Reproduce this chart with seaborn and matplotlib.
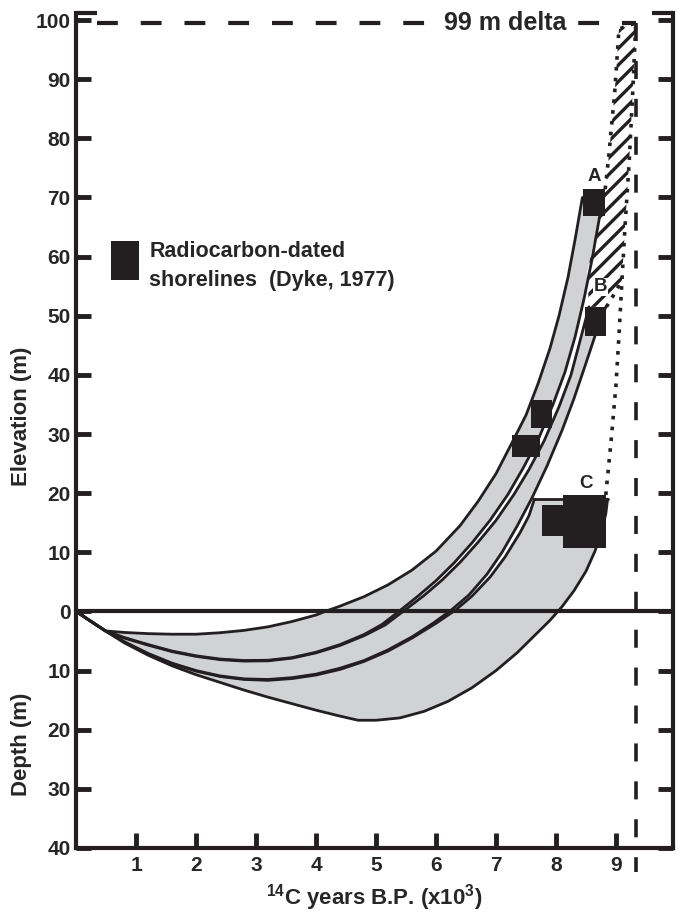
import numpy as np
import pandas as pd
import matplotlib
matplotlib.use("Agg")
import matplotlib.pyplot as plt
import seaborn as sns

# emergence bands: x = 14C ka BP, y = elevation in m (negative = depth)
a_upper_x = [0, 0.25, 0.49, 0.8, 1.2, 1.6, 2.0, 2.4, 2.8, 3.2, 3.6, 4.0, 4.15, 4.4, 4.8, 5.2, 5.6,
             6.0, 6.4, 6.7, 7.0, 7.25, 7.5, 7.7, 7.9, 8.05, 8.2, 8.32, 8.44]
a_upper_y = [0, -1.7, -3.3, -3.55, -3.75, -3.85, -3.85, -3.6, -3.2, -2.6, -1.7, -0.6, 0, 0.9, 2.5, 4.5, 7.0,
             10.2, 14.5, 18.6, 23.3, 28.2, 33.2, 38.5, 44.5, 50.0, 56.5, 63.0, 70.0]
a_lower_x = [0, 0.25, 0.49, 0.8, 1.2, 1.6, 2.0, 2.4, 2.8, 3.2, 3.6, 4.0, 4.4, 4.8, 5.1, 5.38, 5.7,
             6.0, 6.3, 6.6, 6.9, 7.2, 7.45, 7.7, 7.95, 8.15, 8.32, 8.47, 8.6, 8.74]
a_lower_y = [0, -1.7, -3.3, -4.4, -5.6, -6.7, -7.5, -8.05, -8.3, -8.25, -7.8, -6.9, -5.6, -3.9, -2.2, 0, 2.6,
             5.2, 8.2, 11.6, 15.4, 19.8, 24.2, 29.0, 35.0, 40.5, 46.5, 53.0, 59.5, 67.5]

b_upper_x = [0, 0.25, 0.49, 0.8, 1.2, 1.6, 2.0, 2.4, 2.8, 3.2, 3.6, 4.0, 4.4, 4.8, 5.15, 5.45, 5.8,
             6.1, 6.4, 6.7, 7.0, 7.3, 7.55, 7.8, 8.05, 8.25, 8.42, 8.55]
b_upper_y = [0, -1.7, -3.3, -4.5, -5.7, -6.8, -7.6, -8.15, -8.4, -8.35, -7.9, -7.0, -5.75, -4.1, -2.3, 0, 2.7,
             5.3, 8.3, 11.7, 15.4, 19.8, 24.0, 28.8, 34.6, 40.0, 46.5, 51.5]
b_lower_x = [0, 0.25, 0.49, 0.8, 1.2, 1.6, 2.0, 2.4, 2.8, 3.2, 3.6, 4.0, 4.4, 4.8, 5.2, 5.6, 5.95,
             6.25, 6.55, 6.85, 7.1, 7.35, 7.6, 7.85, 8.1, 8.3, 8.5, 8.68, 8.83]
b_lower_y = [0, -1.7, -3.3, -5.1, -7.1, -8.75, -10.0, -10.9, -11.4, -11.5, -11.2, -10.6, -9.6, -8.3, -6.5, -4.3, -2.0,
             0.2, 2.8, 6.3, 10.0, 14.4, 19.2, 24.6, 30.6, 36.0, 42.0, 47.5, 51.5]

c_upper_x = [0, 0.25, 0.49, 0.8, 1.2, 1.6, 2.0, 2.4, 2.8, 3.2, 3.6, 4.0, 4.4, 4.8, 5.2, 5.6, 6.0,
             6.32, 6.6, 6.9, 7.15, 7.4, 7.55, 7.64]
c_upper_y = [0, -1.7, -3.3, -5.15, -7.2, -8.85, -10.1, -11.0, -11.5, -11.65, -11.35, -10.75, -9.8, -8.45, -6.7, -4.5, -2.0,
             0.2, 2.6, 5.8, 9.2, 13.3, 16.2, 19.0]
c_lower_x = [0, 0.25, 0.49, 0.8, 1.2, 1.6, 2.0, 2.4, 2.8, 3.2, 3.6, 4.0, 4.4, 4.7, 5.0, 5.4, 5.8,
             6.2, 6.6, 7.0, 7.35, 7.65, 7.9, 8.1, 8.3, 8.5, 8.65, 8.76, 8.83, 8.86]
c_lower_y = [0, -1.7, -3.3, -5.3, -7.4, -9.2, -10.7, -12.0, -13.3, -14.5, -15.6, -16.7, -17.7, -18.4, -18.4, -18.0, -16.9,
             -15.2, -12.9, -10.0, -7.0, -4.0, -1.5, 0.8, 3.5, 6.8, 10.2, 13.6, 16.5, 19.0]

# extrapolation to the delta
hatch_x = [8.74, 8.82, 8.88, 8.98, 9.05, 9.33, 9.28, 9.22, 9.15, 9.1, 8.84, 8.55, 8.52, 8.62]
hatch_y = [67.5, 71.4, 77.0, 88.0, 98.5, 99.5, 88.0, 76.0, 65.0, 56.0, 51.5, 51.5, 57.4, 62.0]
dot_a_x = [8.82, 8.88, 8.98, 9.05, 9.33]
dot_a_y = [71.4, 77.0, 88.0, 98.5, 99.5]
dot_c_x = [8.83, 8.92, 9.0, 9.05, 9.1, 9.15, 9.22, 9.28, 9.33]
dot_c_y = [19.7, 29.0, 38.3, 46.7, 56.0, 65.0, 76.0, 88.0, 99.5]
dot_b_x = [8.84, 8.96, 9.1]
dot_b_y = [51.5, 53.5, 56.0]

# radiocarbon-dated shorelines (boxes)
box_x0 = [8.45, 8.48, 7.59, 7.26, 8.11, 7.77]
box_x1 = [8.82, 8.84, 7.93, 7.74, 8.83, 8.11]
box_y0 = [66.9, 46.5, 31.0, 26.2, 10.8, 12.7]
box_y1 = [71.4, 51.5, 35.8, 29.8, 19.7, 18.0]

curve_names = ["A", "B", "C"]
curve_label_x = [8.63, 8.74, 8.5]
curve_label_y = [73.6, 54.9, 21.6]

delta_age = 9.33
delta_elev = 99.5

x_ticks = [1, 2, 3, 4, 5, 6, 7, 8, 9]
y_ticks = [-40, -30, -20, -10, 0, 10, 20, 30, 40, 50, 60, 70, 80, 90, 100]
y_tick_labels = ["40", "30", "20", "10", "0", "10", "20", "30", "40", "50", "60", "70", "80", "90", "100"]

sns.set_style("white")
plt.rcParams["font.family"] = ["Liberation Sans", "DejaVu Sans"]
plt.rcParams["font.weight"] = "bold"
plt.rcParams["mathtext.fontset"] = "custom"
plt.rcParams["mathtext.rm"] = "Liberation Sans:bold"
plt.rcParams["mathtext.default"] = "rm"
plt.rcParams["hatch.linewidth"] = 2.4

fig = plt.figure(figsize=(6.86, 9.13), dpi=100)
ax = fig.add_axes([0.111, 0.0712, 0.870, 0.9146])
ax.set_xlim(0, 9.95)
ax.set_ylim(-40, 101.2)

ink = "#231f20"
grey = "#d1d2d4"
bands = [(a_upper_x, a_upper_y, a_lower_x, a_lower_y),
         (b_upper_x, b_upper_y, b_lower_x, b_lower_y),
         (c_upper_x, c_upper_y, c_lower_x, c_lower_y)]
for ux, uy, lx, ly in bands:
    px = list(ux) + list(lx[::-1])
    py = list(uy) + list(ly[::-1])
    ax.fill(px, py, color=grey, lw=0, zorder=1)
    for cx, cy in [(ux, uy), (lx, ly)]:
        df = pd.DataFrame({"x": cx, "y": cy})
        sns.lineplot(data=df, x="x", y="y", sort=False, estimator=None, color=ink,
                     lw=2.0, ax=ax, zorder=3)
# flat top of band C
ax.plot([c_upper_x[-1], c_lower_x[-1]], [c_upper_y[-1], c_lower_y[-1]], color=ink, lw=2.0, zorder=3)

# hatched extrapolation of curve A
ax.fill(hatch_x, hatch_y, facecolor="white", edgecolor=ink, hatch="//", lw=0, zorder=2)
for dx, dy in [(dot_a_x, dot_a_y), (dot_c_x, dot_c_y), (dot_b_x, dot_b_y)]:
    ax.plot(dx, dy, color=ink, lw=2.6, linestyle=(0, (1, 2)), zorder=4)

# boxes
heights = np.array(box_y1) - np.array(box_y0)
widths = np.array(box_x1) - np.array(box_x0)
ax.bar(box_x0, heights, width=widths, bottom=box_y0, align="edge", color=ink, lw=0, zorder=5)

for name, lx, ly in zip(curve_names, curve_label_x, curve_label_y):
    ax.text(lx, ly, name, ha="center", va="center", fontsize=13.5, fontweight="bold", zorder=6,
            bbox=dict(facecolor="white", edgecolor="none", pad=0.5))

# sea level
ax.axhline(0, color=ink, lw=3.0, zorder=2)

# 99 m delta
ax.plot([0.35, delta_age], [delta_elev, delta_elev], color=ink, lw=3.0,
        linestyle=(0, (5, 5.5)), clip_on=False, zorder=2)
ax.plot([delta_age, delta_age], [delta_elev, -44], color=ink, lw=2.6,
        linestyle=(0, (5, 5.5)), clip_on=False, zorder=2)
ax.text(7.15, delta_elev, "99 m delta", ha="center", va="center", fontsize=18,
        fontweight="bold", zorder=6, bbox=dict(facecolor="white", edgecolor="none", pad=1.5))

# legend
ax.bar([0.58], [6.5], width=[0.46], bottom=[56.1], align="edge", color=ink, lw=0)
ax.text(1.22, 59.9, "Radiocarbon-dated", fontsize=15.5, fontweight="bold", va="baseline")
ax.text(1.22, 55.1, "shorelines  (Dyke, 1977)", fontsize=15.5, fontweight="bold", va="baseline")

# frame and ticks
for side in ["left", "right", "bottom"]:
    ax.spines[side].set_linewidth(3.0)
    ax.spines[side].set_color(ink)
ax.spines["top"].set_visible(False)
ax.plot([0, 0.35], [101.2, 101.2], color=ink, lw=3.0, clip_on=False, solid_capstyle="butt")
ax.plot([9.6, 9.95], [101.2, 101.2], color=ink, lw=3.0, clip_on=False, solid_capstyle="butt")

ax.set_xticks(x_ticks)
ax.set_xticklabels([str(t) for t in x_ticks])
ax.set_yticks(y_ticks)
ax.set_yticklabels(y_tick_labels)
ax.tick_params(axis="y", direction="in", length=11, width=3.5, color=ink,
               left=True, right=True, labelsize=15, pad=4)
ax.tick_params(axis="x", direction="in", length=11, width=3.5, color=ink,
               bottom=True, top=False, labelsize=15, pad=6)
for lab in ax.get_xticklabels() + ax.get_yticklabels():
    lab.set_fontweight("bold")
ax.set_xlabel("")
ax.set_ylabel("")

ax.text(-0.092, 33, "Elevation (m)", transform=ax.get_yaxis_transform(), rotation=90,
        ha="center", va="center", fontsize=16, fontweight="bold")
ax.text(-0.092, -22.5, "Depth (m)", transform=ax.get_yaxis_transform(), rotation=90,
        ha="center", va="center", fontsize=16, fontweight="bold")
ax.text(4.97, -48.3, r"$^{14}$C years B.P. (x10$^{3}$)", ha="center", va="center",
        fontsize=16, fontweight="bold", clip_on=False)

fig.savefig("out.png", dpi=100)
